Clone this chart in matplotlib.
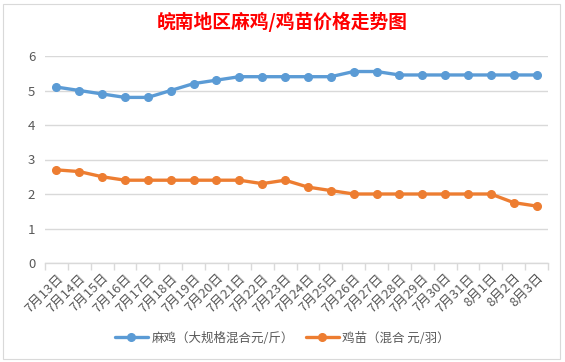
import matplotlib
matplotlib.use("Agg")
import matplotlib.pyplot as plt
import numpy as np
from matplotlib.patches import Rectangle

plt.rcParams['font.family'] = ['Noto Sans CJK SC', 'DejaVu Sans']

dates = ['7月13日', '7月14日', '7月15日', '7月16日', '7月17日', '7月18日',
         '7月19日', '7月20日', '7月21日', '7月22日', '7月23日', '7月24日',
         '7月25日', '7月26日', '7月27日', '7月28日', '7月29日', '7月30日',
         '7月31日', '8月1日', '8月2日', '8月3日']
majiang = [5.1, 5.0, 4.9, 4.8, 4.8, 5.0, 5.2, 5.3, 5.4, 5.4, 5.4, 5.4,
           5.4, 5.55, 5.55, 5.45, 5.45, 5.45, 5.45, 5.45, 5.45, 5.45]
jimiao = [2.7, 2.65, 2.5, 2.4, 2.4, 2.4, 2.4, 2.4, 2.4, 2.3, 2.4, 2.2,
          2.1, 2.0, 2.0, 2.0, 2.0, 2.0, 2.0, 2.0, 1.75, 1.65]
labels = ['麻鸡（大规格混合元/斤）', '鸡苗（混合 元/羽）']
title = '皖南地区麻鸡/鸡苗价格走势图'

blue = '#5B9BD5'
orange = '#ED7D31'
grey_text = '#595959'
grid_c = '#D9D9D9'

fig = plt.figure(figsize=(5.65, 3.62), dpi=100)
fig.patch.set_facecolor('white')
fig.patches.append(Rectangle((3 / 565, 3 / 362), 557 / 565, 355 / 362,
                             transform=fig.transFigure, fill=False,
                             edgecolor='#D9D9D9', lw=0.8))

ax = fig.add_axes([45 / 565, 99 / 362, 503 / 565, 207 / 362])
x = np.arange(len(dates))
l1, = ax.plot(x, majiang, color=blue, lw=2.4, marker='o', markersize=5.5,
              solid_capstyle='round')
l2, = ax.plot(x, jimiao, color=orange, lw=2.4, marker='o', markersize=5.5,
              solid_capstyle='round')

ax.set_xlim(-0.5, len(dates) - 0.5)
ax.set_ylim(0, 6)
ax.set_yticks(range(0, 7))
ax.yaxis.grid(True, color=grid_c, lw=1)
ax.set_axisbelow(True)
for s in ['top', 'right', 'left']:
    ax.spines[s].set_visible(False)
ax.spines['bottom'].set_color(grid_c)
ax.spines['bottom'].set_linewidth(1)
ax.tick_params(axis='y', length=0, labelsize=9.5, labelcolor=grey_text, pad=7)

ax.set_xticks(x)
ax.set_xticklabels(dates, rotation=45, ha='right', rotation_mode='anchor',
                   fontsize=9.5, color=grey_text)
ax.tick_params(axis='x', which='major', length=0, pad=6)
ax.set_xticks(np.arange(-0.5, len(dates), 1), minor=True)
ax.tick_params(axis='x', which='minor', length=5, color=grid_c, width=1)

fig.text(0.5, 1 - 22 / 362, title, ha='center', va='center', color='#FF0000',
         fontsize=13.5, fontweight='bold')

fig.legend([l1, l2], labels, loc='center', bbox_to_anchor=(0.5, 1 - 338 / 362),
           ncol=2, frameon=False, fontsize=9, labelcolor=grey_text,
           handlelength=2.6, columnspacing=1.0, handletextpad=0.3)

fig.savefig('out.png', dpi=100)
